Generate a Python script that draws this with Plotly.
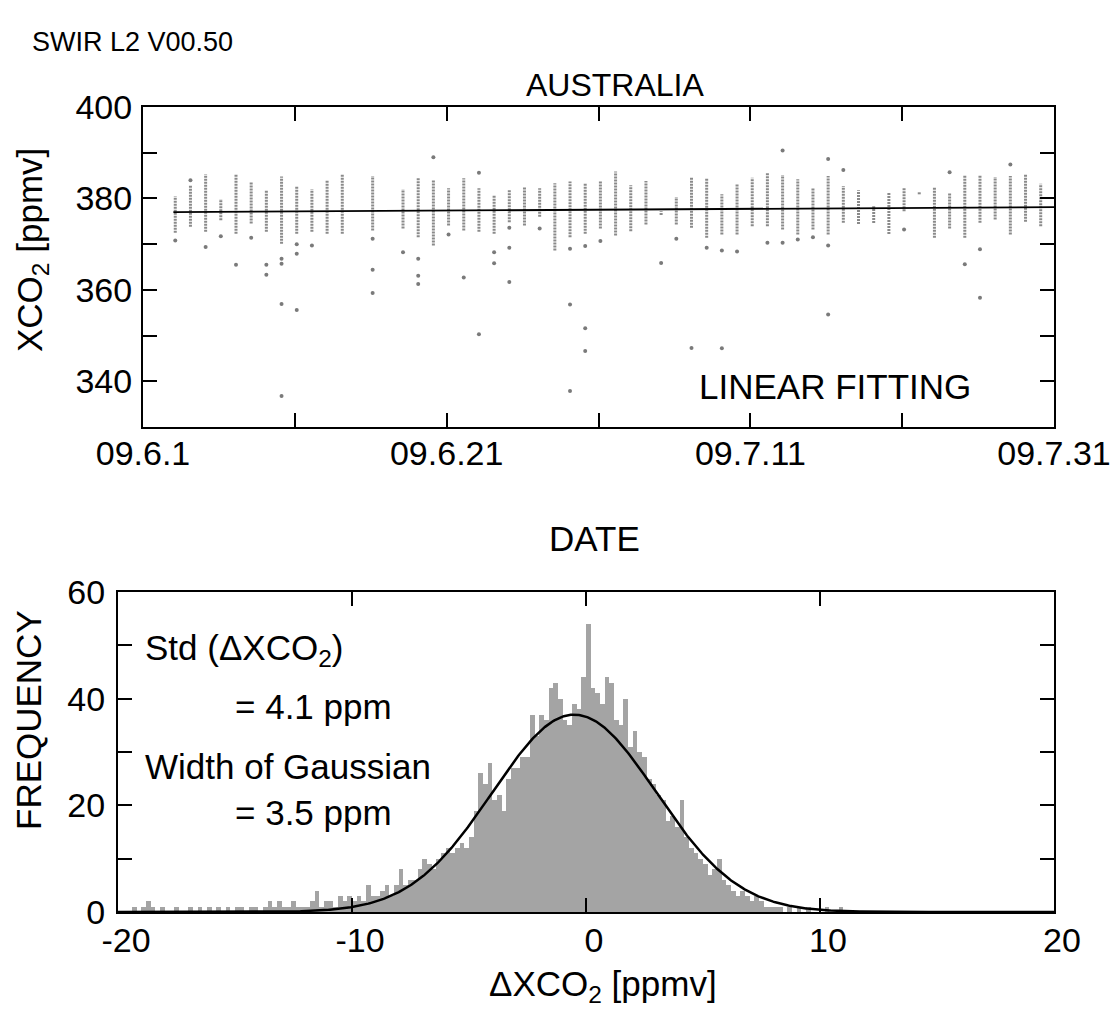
import numpy as np
import plotly.graph_objects as go

# ---------------- top panel data (XCO2 vs date, Australia) ----------------
obs_days = ["2009-06-03", "2009-06-04", "2009-06-05", "2009-06-06", "2009-06-07", "2009-06-08",
            "2009-06-09", "2009-06-10", "2009-06-11", "2009-06-12", "2009-06-13", "2009-06-14",
            "2009-06-16", "2009-06-18", "2009-06-19", "2009-06-20", "2009-06-21", "2009-06-22",
            "2009-06-23", "2009-06-24", "2009-06-25", "2009-06-26", "2009-06-27", "2009-06-28",
            "2009-06-29", "2009-06-30", "2009-07-01", "2009-07-02", "2009-07-03", "2009-07-04",
            "2009-07-05", "2009-07-06", "2009-07-07", "2009-07-08", "2009-07-09", "2009-07-10",
            "2009-07-11", "2009-07-12", "2009-07-13", "2009-07-14", "2009-07-15", "2009-07-16",
            "2009-07-17", "2009-07-18", "2009-07-19", "2009-07-20", "2009-07-21", "2009-07-22",
            "2009-07-23", "2009-07-24", "2009-07-25", "2009-07-26", "2009-07-27", "2009-07-28",
            "2009-07-29", "2009-07-30"]
overpass_time = "03:00"
# upper / lower ends of the dense stack of retrievals for each day
core_hi = [380.5, 383.0, 385.3, 379.9, 385.3, 383.7, 381.8, 384.8, 382.7, 382.0, 384.0, 385.3,
           384.9, 382.0, 384.6, 384.0, 382.2, 384.4, 382.2, 380.7, 381.8, 382.4, 382.2, 383.3,
           383.7, 383.3, 383.7, 385.9, 382.9, 383.8, 377.2, 380.3, 384.5, 384.5, 380.9, 383.2,
           384.5, 385.6, 385.1, 384.2, 382.2, 384.9, 382.7, 381.8, 378.3, 381.2, 382.3, 381.4,
           382.5, 381.2, 385.1, 385.1, 384.7, 384.9, 385.3, 383.2]
core_lo = [372.5, 373.8, 372.7, 375.2, 372.3, 374.5, 372.7, 370.1, 372.3, 372.7, 372.3, 372.3,
           373.0, 373.4, 371.5, 369.7, 374.1, 373.0, 372.7, 372.3, 374.8, 374.1, 376.0, 368.6,
           371.5, 372.3, 373.4, 371.9, 372.8, 374.3, 376.4, 374.3, 373.6, 371.4, 372.1, 372.1,
           373.9, 373.9, 373.2, 372.1, 373.2, 372.1, 374.7, 374.4, 374.6, 372.2, 377.2, 380.9,
           371.4, 373.4, 371.4, 374.7, 375.4, 372.1, 374.9, 373.9]
# isolated retrievals away from the dense stacks
out_days = ["2009-06-03", "2009-06-04", "2009-06-05", "2009-06-06", "2009-06-07", "2009-06-08",
            "2009-06-09", "2009-06-09", "2009-06-10", "2009-06-10", "2009-06-10", "2009-06-10",
            "2009-06-11", "2009-06-11", "2009-06-11", "2009-06-12", "2009-06-16", "2009-06-16",
            "2009-06-16", "2009-06-18", "2009-06-19", "2009-06-19", "2009-06-19", "2009-06-20",
            "2009-06-21", "2009-06-22", "2009-06-23", "2009-06-23", "2009-06-24", "2009-06-24",
            "2009-06-25", "2009-06-25", "2009-06-25", "2009-06-27", "2009-06-29", "2009-06-29",
            "2009-06-29", "2009-06-30", "2009-06-30", "2009-06-30", "2009-07-01", "2009-07-05",
            "2009-07-06", "2009-07-07", "2009-07-08", "2009-07-09", "2009-07-09", "2009-07-10",
            "2009-07-12", "2009-07-13", "2009-07-13", "2009-07-14", "2009-07-15", "2009-07-16",
            "2009-07-16", "2009-07-16", "2009-07-17", "2009-07-21", "2009-07-24", "2009-07-25",
            "2009-07-26", "2009-07-26", "2009-07-28"]
out_values = [370.8, 384.0, 369.4, 371.7, 365.5, 371.4,
              365.5, 363.3, 366.8, 365.7, 356.9, 336.8,
              370.0, 367.9, 355.6, 369.7, 371.2, 364.4,
              359.3, 368.2, 366.8, 363.1, 361.3, 389.0,
              372.1, 362.7, 385.6, 350.3, 368.2, 365.8,
              373.6, 369.2, 361.7, 373.4, 369.0, 356.8,
              337.9, 369.6, 351.6, 346.6, 370.7, 365.9,
              371.2, 347.3, 369.2, 368.6, 347.2, 368.4,
              370.3, 390.5, 370.3, 371.0, 371.5, 388.6,
              369.7, 354.6, 386.2, 373.2, 385.7, 365.6,
              368.9, 358.3, 387.4]
fit_days = ["2009-06-03", "2009-07-31"]
fit_values = [377.0, 378.1]

date_tickvals = ["2009-06-01", "2009-06-11", "2009-06-21", "2009-07-01",
                 "2009-07-11", "2009-07-21", "2009-07-31"]
date_ticktext = ["09.6.1", "", "09.6.21", "", "09.7.11", "", "09.7.31"]
xco2_tickvals = [340, 350, 360, 370, 380, 390, 400]
xco2_ticktext = ["340", "", "360", "", "380", "", "400"]

# ---------------- bottom panel data (histogram of dXCO2) ----------------
bin_start = -20.0
bin_width = 0.2
hist_counts = [
    0, 0, 0, 1, 0, 1, 2, 1, 0, 1,          # -20.0 .. -18.2
    0, 0, 1, 0, 0, 1, 0, 1, 0, 1,          # -18.0 .. -16.2
    0, 1, 0, 1, 0, 1, 1, 0, 1, 1,          # -16.0 .. -14.2
    0, 1, 2, 1, 2, 1, 1, 2, 1, 1,          # -14.0 .. -12.2
    1, 2, 4, 1, 2, 2, 1, 3, 2, 3,          # -12.0 .. -10.2
    2, 3, 2, 5, 3, 3, 4, 5, 3, 5,          # -10.0 .. -8.2
    8, 5, 6, 6, 8, 10, 9, 8, 10, 11,       # -8.0 .. -6.2
    12, 11, 12, 13, 12, 14, 19, 26, 24, 28,  # -6.0 .. -4.2
    21, 22, 19, 25, 27, 27, 29, 29, 37, 33,  # -4.0 .. -2.2
    37, 36, 42, 43, 40, 36, 35, 39, 38, 44,  # -2.0 .. -0.2
    54, 42, 41, 39, 44, 43, 36, 35, 40, 31,  # 0.0 .. 1.8
    34, 30, 29, 25, 24, 22, 21, 17, 18, 16,  # 2.0 .. 3.8
    21, 14, 12, 11, 10, 9, 7, 8, 10, 6,      # 4.0 .. 5.8
    5, 4, 3, 4, 3, 2, 3, 2, 1, 1,            # 6.0 .. 7.8
    1, 1, 0, 1, 0, 1, 0, 1, 0, 0,            # 8.0 .. 9.8
    0, 1, 0, 0, 1, 0, 0, 0, 0, 0,            # 10.0 .. 11.8
]
gauss_amp = 37.0
gauss_center = -0.5
gauss_width = 3.5
std_text = "4.1"
width_text = "3.5"

hist_xticks = [-20, -10, 0, 10, 20]
freq_tickvals = [0, 10, 20, 30, 40, 50, 60]
freq_ticktext = ["0", "", "20", "", "40", "", "60"]

# ---------------- build figure ----------------
FONT = "Liberation Sans, Arial, Helvetica, sans-serif"
W, H = 1112, 1012

seg_x, seg_y = [], []
for d, lo, hi in zip(obs_days, core_lo, core_hi):
    t = f"{d} {overpass_time}"
    seg_x += [t, t, None]
    seg_y += [lo, hi, None]

fig = go.Figure()
fig.add_trace(go.Scatter(x=seg_x, y=seg_y, mode="lines", xaxis="x", yaxis="y",
                         line=dict(color="#8a8a8a", width=3, dash="2px,1px"),
                         hoverinfo="skip"))
fig.add_trace(go.Scatter(x=[f"{d} {overpass_time}" for d in out_days], y=out_values,
                         mode="markers", xaxis="x", yaxis="y",
                         marker=dict(color="#7a7a7a", size=4)))
fig.add_trace(go.Scatter(x=fit_days, y=fit_values, mode="lines", xaxis="x", yaxis="y",
                         line=dict(color="black", width=1.8)))

centers = [bin_start + (i + 0.5) * bin_width for i in range(len(hist_counts))]
fig.add_trace(go.Bar(x=centers, y=hist_counts, width=bin_width, xaxis="x2", yaxis="y2",
                     marker=dict(color="#a4a4a4", line=dict(width=0))))
gx = np.linspace(-20, 20, 801)
gy = gauss_amp * np.exp(-(gx - gauss_center) ** 2 / (2 * gauss_width ** 2))
fig.add_trace(go.Scatter(x=gx, y=gy, mode="lines", xaxis="x2", yaxis="y2",
                         line=dict(color="black", width=2.5)))

axis_common = dict(showline=True, linewidth=2, linecolor="black", mirror="allticks",
                   ticks="inside", ticklen=14, tickwidth=2, tickcolor="black",
                   showgrid=False, zeroline=False,
                   tickfont=dict(family=FONT, size=34, color="black"))

def px(x):
    return x / W

def py(y):
    return 1 - y / H

fig.update_layout(
    width=W, height=H, margin=dict(l=0, r=0, t=0, b=0, autoexpand=False),
    paper_bgcolor="white", plot_bgcolor="white", showlegend=False, bargap=0,
    font=dict(family=FONT, color="black"),
    xaxis=dict(type="date", domain=[px(143), px(1054)], anchor="y",
               range=["2009-06-01", "2009-07-31"], tickmode="array",
               tickvals=date_tickvals, ticktext=date_ticktext, ticklabelstandoff=-5,
               **axis_common),
    yaxis=dict(domain=[py(427), py(107)], anchor="x", range=[330, 400], tickmode="array",
               tickvals=xco2_tickvals, ticktext=xco2_ticktext, ticklabelstandoff=2,
               **axis_common),
    xaxis2=dict(domain=[px(118), px(1054)], anchor="y2", range=[-20, 20], tickmode="array",
                tickvals=hist_xticks, ticktext=[str(v) for v in hist_xticks],
                ticklabelstandoff=-3, ticklabelshift=8, **axis_common),
    yaxis2=dict(domain=[py(912), py(592)], anchor="x2", range=[0, 60], tickmode="array",
                tickvals=freq_tickvals, ticktext=freq_ticktext, ticklabelstandoff=4,
                **axis_common),
)

def note(text, x, y, size, xanchor="center", angle=0):
    fig.add_annotation(text=text, x=px(x), y=py(y), xref="paper", yref="paper",
                       xanchor=xanchor, yanchor="middle", textangle=angle, showarrow=False,
                       font=dict(family=FONT, size=size, color="black"))

note("SWIR L2 V00.50", 30, 42, 27, xanchor="left")
note("AUSTRALIA", 615, 85, 32)
note("XCO<sub>2</sub> [ppmv]", 32, 250, 35, angle=-90)
note("DATE", 594, 538, 35)
note("LINEAR FITTING", 697, 386, 35, xanchor="left")
note("FREQUENCY", 28, 720, 35, angle=-90)
note("ΔXCO<sub>2</sub> [ppmv]", 603, 986, 35)
note("Std (ΔXCO<sub>2</sub>)", 143, 650, 35, xanchor="left")
note(f"= {std_text} ppm", 233, 706, 35, xanchor="left")
note("Width of Gaussian", 143, 766, 35, xanchor="left")
note(f"= {width_text} ppm", 233, 812, 35, xanchor="left")

fig.write_html("out.html")
